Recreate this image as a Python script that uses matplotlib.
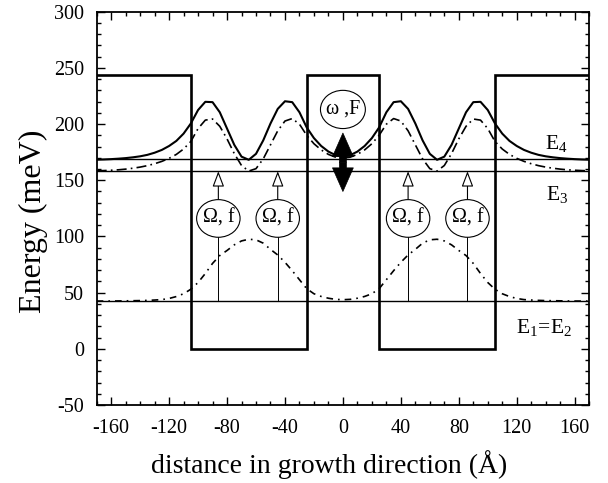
import matplotlib
matplotlib.use("Agg")
import matplotlib.pyplot as plt
from matplotlib.patches import Ellipse
from matplotlib.ticker import MultipleLocator

plt.rcParams['font.family'] = ['Liberation Serif', 'DejaVu Serif']
plt.rcParams['mathtext.fontset'] = 'custom'
plt.rcParams['mathtext.rm'] = 'Liberation Serif'
plt.rcParams['mathtext.it'] = 'Liberation Serif:italic'
plt.rcParams['axes.unicode_minus'] = False

# ---------------- data ----------------
x = [-170, -165, -160, -155, -150, -145, -140, -135, -130, -125, -120, -115,
     -110, -105, -100, -95, -90, -85, -80, -75, -70, -65, -60, -55, -50, -45,
     -40, -35, -30, -25, -20, -15, -10, -5, 0,
     5, 10, 15, 20, 25, 30, 35, 40, 45, 50, 55, 60, 65, 70, 75, 80, 85, 90,
     95, 100, 105, 110, 115, 120, 125, 130, 135, 140, 145, 150, 155, 160,
     165, 170]

# E4 state (solid)
psi4 = [168.3, 168.5, 168.8, 169.2, 169.7, 170.4, 171.3, 172.6, 174.5, 177.0,
        180.5, 185.0, 191.5, 200.5, 212.5, 219.8, 219.5, 210.5, 196.0, 181.5,
        171.0, 168.2, 173.5, 185.5, 200.5, 213.5, 220.3, 219.5, 210.5, 197.0,
        187.5, 180.5, 175.5, 172.3, 171.2,
        172.3, 175.5, 180.5, 187.5, 197.0, 210.5, 219.5, 220.3, 213.5, 200.5,
        185.5, 173.5, 168.2, 171.0, 181.5, 196.0, 210.5, 219.5, 219.8, 212.5,
        200.5, 191.5, 185.0, 180.5, 177.0, 174.5, 172.6, 171.3, 170.4, 169.7,
        169.2, 168.8, 168.5, 168.3]

# E3 state (dash-dot)
psi3 = [158.4, 158.6, 158.9, 159.3, 159.9, 160.7, 161.7, 163.0, 164.7, 166.8,
        169.5, 173.0, 177.8, 184.5, 196.0, 203.5, 204.5, 198.0, 186.8, 173.7,
        163.1, 158.2, 160.3, 169.0, 181.5, 194.0, 202.7, 204.9, 199.9, 190.0,
        182.5, 177.0, 173.0, 170.5, 169.7,
        170.5, 173.0, 177.0, 182.5, 190.0, 199.9, 204.9, 202.7, 194.0, 181.5,
        169.0, 160.3, 158.2, 163.1, 173.7, 186.8, 198.0, 204.5, 203.5, 196.0,
        184.5, 177.8, 173.0, 169.5, 166.8, 164.7, 163.0, 161.7, 160.7, 159.9,
        159.3, 158.9, 158.6, 158.4]

# E1 = E2 state (dash-dot)
psi1 = [42.5, 42.5, 42.5, 42.6, 42.7, 42.8, 42.9, 43.1, 43.4, 43.8, 44.8, 46.5,
        49.0, 53.0, 59.0, 67.0, 76.0, 83.0, 87.5, 92.5, 96.0, 97.5, 97.0, 94.0,
        88.5, 83.5, 77.0, 69.5, 61.5, 53.5, 49.0, 46.6, 45.0, 44.0, 43.7,
        44.0, 45.0, 46.6, 49.0, 53.5, 61.5, 69.5, 77.0, 83.5, 88.5, 94.0, 97.0,
        97.5, 96.0, 92.5, 87.5, 83.0, 76.0, 67.0, 59.0, 53.0, 49.0, 46.5, 44.8,
        43.8, 43.4, 43.1, 42.9, 42.8, 42.7, 42.6, 42.5, 42.5, 42.5]

# potential profile
pot_x = [-170, -105, -105, -25, -25, 25, 25, 105, 105, 170]
pot_v = [244, 244, 0, 0, 244, 244, 0, 0, 244, 244]

# energy levels
E1 = 42.5
E3 = 158.0
E4 = 168.5

# transitions
arrow_x = [-86, -45, 45, 86]
circle_y = 116
circle_w = 30
circle_h = 33.5
field_x = 0
field_y = 213
field_lo = 140
field_hi = 192

# ---------------- figure ----------------
fig = plt.figure(figsize=(6.08, 4.83), dpi=100)
ax = fig.add_axes([0.159, 0.1615, 0.81, 0.8143])

ax.plot(pot_x, pot_v, color='black', lw=1.9, solid_joinstyle='miter')
for E in (E1, E3, E4):
    ax.axhline(E, color='black', lw=1.0)

ax.plot(x, psi4, color='black', lw=1.5)
ax.plot(x, psi3, color='black', lw=1.2, linestyle=(0, (6, 2.5, 1, 2.5)))
ax.plot(x, psi1, color='black', lw=1.2, linestyle=(0, (4, 3, 1, 3)))

# Omega, f transitions
for xa in arrow_x:
    ax.plot([xa, xa], [E1, circle_y - circle_h / 2], color='black', lw=0.7)
    ax.annotate('', xy=(xa, E3), xytext=(xa, circle_y + circle_h / 2),
                arrowprops=dict(arrowstyle='-|>,head_length=0.95,head_width=0.36',
                                fc='white', ec='black', lw=0.8,
                                shrinkA=0, shrinkB=0, mutation_scale=10))
    ax.add_patch(Ellipse((xa, circle_y), circle_w, circle_h, fc='white',
                         ec='black', lw=0.8, zorder=3))
    ax.text(xa, circle_y, 'Ω, f', ha='center', va='center', fontsize=14.5,
            zorder=4)

# omega, F field
ax.add_patch(Ellipse((field_x, field_y), 31, 34, fc='white', ec='black',
                     lw=0.8, zorder=3))
ax.text(field_x, field_y, 'ω ,F', ha='center', va='center', fontsize=14.5,
        zorder=4)
mid = (field_lo + field_hi) / 2
for end in (field_lo, field_hi):
    ax.annotate('', xy=(field_x, end), xytext=(field_x, mid),
                arrowprops=dict(arrowstyle='simple,head_length=1.7,head_width=1.5,tail_width=0.5',
                                fc='black', ec='black', lw=0.5,
                                shrinkA=0, shrinkB=0, mutation_scale=10),
                zorder=5)

# level labels
ax.text(147.5, 183, r'$\mathrm{E}_4$', ha='center', va='center', fontsize=15.5)
ax.text(148, 137, r'$\mathrm{E}_3$', ha='center', va='center', fontsize=15.5)
ax.text(139, 19, r'$\mathrm{E}_1\!=\!\mathrm{E}_2$', ha='center', va='center',
        fontsize=15.5)

ax.set_xlim(-170, 170)
ax.set_ylim(-50, 300)
ax.xaxis.set_major_locator(MultipleLocator(40))
ax.xaxis.set_minor_locator(MultipleLocator(10))
ax.yaxis.set_major_locator(MultipleLocator(50))
ax.yaxis.set_minor_locator(MultipleLocator(10))
ax.tick_params(which='both', direction='in', top=True, right=True,
               labelsize=14.5, width=1.0)
ax.tick_params(which='major', length=6)
ax.tick_params(which='minor', length=3)
ax.tick_params(axis='x', which='major', pad=10)
ax.tick_params(axis='y', which='major', pad=9)
for s in ax.spines.values():
    s.set_linewidth(1.3)

ax.set_xlabel('distance in growth direction (Å)', fontsize=20)
ax.set_ylabel('Energy (meV)', fontsize=23)
ax.xaxis.set_label_coords(0.4726, -0.114)
ax.yaxis.set_label_coords(-0.099, 0.4666)

fig.savefig('out.png', dpi=100)
